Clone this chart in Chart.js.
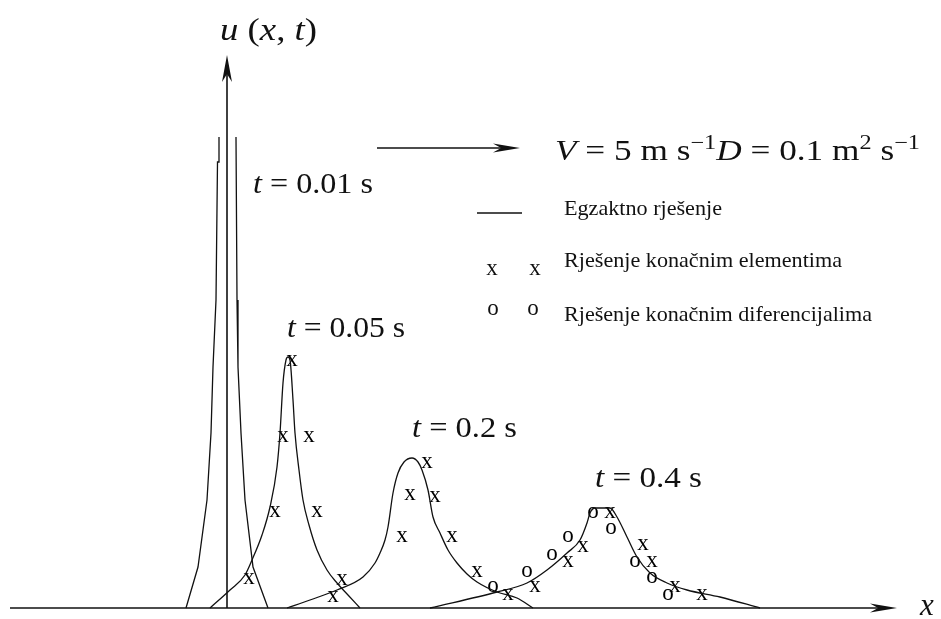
<!DOCTYPE html>
<html>
<head>
<meta charset="utf-8">
<script src="https://cdn.jsdelivr.net/npm/chart.js@4.4.1/dist/chart.umd.min.js"></script>
<style>
    body { margin: 0; background: #fff; }
    #wrap { width: 941px; height: 619px; }
</style>
</head>
<body>
<div id="wrap"><canvas id="myChart" width="941" height="619"></canvas></div>
<script>
// exact solution, t = 0.01 s (top is cut off, so there is a gap)
var t001X = [-0.41, -0.29, -0.20, -0.16, -0.14, -0.11, -0.095, -0.08, -0.08, 0.00, 0.09, 0.10, 0.11, 0.14, 0.18, 0.26, 0.41];
var t001Y = [0, 0.41, 1.08, 1.75, 2.41, 3.08, 4.46, 4.46, 4.71, null, 4.71, 3.08, 2.41, 1.75, 1.08, 0.41, 0];

// exact solution, t = 0.05 s
var t005X = [-0.17, 0.03, 0.18, 0.25, 0.35, 0.43, 0.50, 0.53, 0.56, 0.59, 0.61, 0.63, 0.66, 0.68, 0.72, 0.76, 0.82, 0.90, 1.00, 1.10, 1.21, 1.33];
var t005Y = [0, 0.18, 0.33, 0.48, 0.73, 1.01, 1.41, 1.75, 2.25, 2.48, 2.51, 2.48, 2.08, 1.75, 1.38, 1.08, 0.83, 0.58, 0.38, 0.25, 0.13, 0];

// exact solution, t = 0.2 s
var t02X = [0.60, 0.83, 1.10, 1.36, 1.48, 1.53, 1.58, 1.61, 1.66, 1.71, 1.77, 1.85, 1.91, 1.95, 2.01, 2.06, 2.13, 2.21, 2.30, 2.40, 2.50, 2.70, 2.90, 3.06];
var t02Y = [0, 0.08, 0.18, 0.31, 0.45, 0.55, 0.68, 0.81, 1.15, 1.35, 1.46, 1.50, 1.46, 1.38, 1.18, 0.91, 0.75, 0.58, 0.45, 0.34, 0.26, 0.16, 0.10, 0];

// exact solution, t = 0.4 s
var t04X = [2.03, 2.70, 3.00, 3.20, 3.40, 3.53, 3.60, 3.63, 3.68, 3.83, 3.90, 4.00, 4.10, 4.23, 4.40, 4.60, 4.93, 5.33];
var t04Y = [0, 0.16, 0.25, 0.38, 0.55, 0.68, 0.85, 0.95, 1.00, 1.00, 0.91, 0.71, 0.51, 0.35, 0.25, 0.18, 0.11, 0];

// finite element solution (x markers)
var feX = [0.65, 0.56, 0.82, 0.48, 0.90, 0.22, 1.15, 1.06,
           2.00, 1.83, 2.08, 1.75, 2.25, 2.50, 2.81,
           3.08, 3.41, 3.56, 3.83, 4.16, 4.25, 4.48, 4.75];
var feY = [2.47, 1.71, 1.71, 0.96, 0.96, 0.29, 0.28, 0.11,
           1.45, 1.13, 1.11, 0.71, 0.71, 0.36, 0.13,
           0.21, 0.46, 0.61, 0.95, 0.63, 0.46, 0.21, 0.13];

// finite difference solution (o markers)
var fdX = [2.66, 3.00, 3.25, 3.41, 3.66, 3.84, 4.08, 4.25, 4.41];
var fdY = [0.21, 0.36, 0.53, 0.71, 0.95, 0.79, 0.46, 0.30, 0.13];

var legendTexts = ["Egzaktno rješenje", "Rješenje konačnim elementima", "Rješenje konačnim diferencijalima"];

var SERIF = "'Liberation Serif', 'Times New Roman', serif";

function pts(xs, ys) {
    return xs.map(function (x, i) { return {x: x, y: ys[i]}; });
}

// small canvas with a text glyph, used as point style
function glyph(ch) {
    var c = document.createElement('canvas');
    c.width = 18; c.height = 18;
    var g = c.getContext('2d');
    g.fillStyle = '#000';
    g.font = '23px ' + SERIF;
    g.textAlign = 'center';
    g.textBaseline = 'alphabetic';
    g.fillText(ch, 9, 14);
    return c;
}

// draws text made of italic / roman / superscript parts, stretched to width w
function drawParts(ctx, x, y, parts, size, w) {
    function font(kind) {
        if (kind == 'i') return 'italic ' + size + 'px ' + SERIF;
        if (kind == 's') return Math.round(size * 0.68) + 'px ' + SERIF;
        return size + 'px ' + SERIF;
    }
    var total = 0;
    parts.forEach(function (p) { ctx.font = font(p[1]); total += ctx.measureText(p[0]).width; });
    ctx.save();
    ctx.translate(x, y);
    ctx.scale(w ? w / total : 1, 1);
    var cx = 0;
    parts.forEach(function (p) {
        ctx.font = font(p[1]);
        ctx.fillText(p[0], cx, p[1] == 's' ? -size * 0.38 : 0);
        cx += ctx.measureText(p[0]).width;
    });
    ctx.restore();
}

function arrowHead(ctx, x, y, dx, dy, len, half) {
    var nx = -dy, ny = dx;
    ctx.beginPath();
    ctx.moveTo(x, y);
    ctx.lineTo(x - dx * len + nx * half, y - dy * len + ny * half);
    ctx.lineTo(x - dx * len * 0.7, y - dy * len * 0.7);
    ctx.lineTo(x - dx * len - nx * half, y - dy * len - ny * half);
    ctx.closePath();
    ctx.fill();
}

var decor = {
    id: 'decor',
    beforeDatasetsDraw: function (chart) {
        var ctx = chart.ctx;
        var xs = chart.scales.x, ys = chart.scales.y;
        var ox = xs.getPixelForValue(0), oy = ys.getPixelForValue(0);
        ctx.save();
        ctx.strokeStyle = '#111';
        ctx.fillStyle = '#111';
        ctx.lineWidth = 1.6;
        // x axis
        ctx.beginPath();
        ctx.moveTo(10, oy);
        ctx.lineTo(885, oy);
        ctx.stroke();
        arrowHead(ctx, 897, oy, 1, 0, 27, 4.5);
        // y axis
        ctx.beginPath();
        ctx.moveTo(ox, oy);
        ctx.lineTo(ox, 70);
        ctx.stroke();
        arrowHead(ctx, ox, 55, 0, -1, 27, 5);
        ctx.restore();
    },
    afterDraw: function (chart) {
        var ctx = chart.ctx;
        ctx.save();
        ctx.fillStyle = '#111';
        ctx.strokeStyle = '#111';
        ctx.textBaseline = 'alphabetic';

        // axis labels
        drawParts(ctx, 220, 40, [['u', 'i'], [' (', 'r'], ['x', 'i'], [', ', 'r'], ['t', 'i'], [')', 'r']], 31, 97);
        drawParts(ctx, 920, 615, [['x', 'i']], 31);

        // time labels
        drawParts(ctx, 253, 193, [['t', 'i'], [' = 0.01 s', 'r']], 30, 120);
        drawParts(ctx, 287, 337, [['t', 'i'], [' = 0.05 s', 'r']], 30, 118);
        drawParts(ctx, 412, 437, [['t', 'i'], [' = 0.2 s', 'r']], 30, 105);
        drawParts(ctx, 595, 487, [['t', 'i'], [' = 0.4 s', 'r']], 30, 107);

        // flow direction + parameters
        ctx.lineWidth = 1.5;
        ctx.beginPath();
        ctx.moveTo(377, 148);
        ctx.lineTo(505, 148);
        ctx.stroke();
        arrowHead(ctx, 520, 148, 1, 0, 27, 4.5);
        drawParts(ctx, 555, 160, [['V', 'i'], [' = 5 m s', 'r'], ['−1', 's'], ['D', 'i'], [' = 0.1 m', 'r'], ['2', 's'], [' s', 'r'], ['−1', 's']], 29, 365);

        // legend
        ctx.lineWidth = 1.3;
        ctx.beginPath();
        ctx.moveTo(477, 213);
        ctx.lineTo(522, 213);
        ctx.stroke();
        drawParts(ctx, 564, 215, [[legendTexts[0], 'r']], 21, 158);
        ctx.font = '23px ' + SERIF;
        ctx.textAlign = 'center';
        ctx.fillText('x', 492, 275);
        ctx.fillText('x', 535, 275);
        ctx.fillText('o', 493, 315);
        ctx.fillText('o', 533, 315);
        ctx.textAlign = 'left';
        drawParts(ctx, 564, 267, [[legendTexts[1], 'r']], 21, 278);
        drawParts(ctx, 564, 321, [[legendTexts[2], 'r']], 21, 308);
        ctx.restore();
    }
};

var curve = {
    showLine: true,
    borderColor: '#111',
    borderWidth: 1.3,
    pointRadius: 0,
    fill: false,
    cubicInterpolationMode: 'monotone'
};

var ctx = document.getElementById('myChart').getContext('2d');
var myChart = new Chart(ctx, {
    type: 'scatter',
    data: {
        datasets: [
            Object.assign({}, curve, {label: 't = 0.01 s', data: pts(t001X, t001Y), cubicInterpolationMode: 'default', tension: 0}),
            Object.assign({}, curve, {label: 't = 0.05 s', data: pts(t005X, t005Y)}),
            Object.assign({}, curve, {label: 't = 0.2 s', data: pts(t02X, t02Y)}),
            Object.assign({}, curve, {label: 't = 0.4 s', data: pts(t04X, t04Y)}),
            {label: legendTexts[1], data: pts(feX, feY), pointStyle: glyph('x'), pointRadius: 6, showLine: false},
            {label: legendTexts[2], data: pts(fdX, fdY), pointStyle: glyph('o'), pointRadius: 6, showLine: false}
        ]
    },
    options: {
        responsive: false,
        animation: false,
        events: [],
        layout: {padding: 0, autoPadding: false},
        plugins: {legend: {display: false}, tooltip: {enabled: false}},
        scales: {
            x: {type: 'linear', min: -2.27, max: 7.14, display: false},
            y: {type: 'linear', min: -0.11, max: 6.08, display: false}
        }
    },
    plugins: [decor]
});
</script>
</body>
</html>
